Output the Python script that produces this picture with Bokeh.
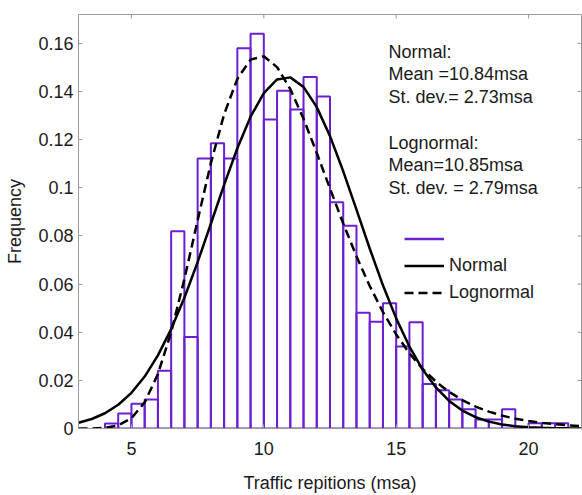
from bokeh.plotting import figure
from bokeh.models import (ColumnDataSource, Range1d, FixedTicker,
                          Label, Legend, LegendItem)
from bokeh.embed import file_html
from bokeh.resources import INLINE

# ---------------- data ----------------
bin_left = [4.0, 4.5, 5.0, 5.5, 6.0, 6.5, 7.0, 7.5, 8.0, 8.5, 9.0, 9.5,
            10.0, 10.5, 11.0, 11.5, 12.0, 12.5, 13.0, 13.5, 14.0, 14.5,
            15.0, 15.5, 16.0, 16.5, 17.0, 17.5, 18.0, 18.5, 19.0, 19.5,
            20.0, 20.5, 21.0]
bin_width = 0.5
freq = [0.0021, 0.0062, 0.0103, 0.0121, 0.0240, 0.0820, 0.0380, 0.1122,
        0.1185, 0.1122, 0.1580, 0.1640, 0.1284, 0.1403, 0.1325, 0.1460,
        0.1379, 0.0940, 0.0842, 0.0481, 0.0443, 0.0520, 0.0341, 0.0441,
        0.0185, 0.0159, 0.0120, 0.0080, 0.0037, 0.0037, 0.0080, 0.0,
        0.0022, 0.0022, 0.0022]

fit_x = [3.0, 3.5, 4.0, 4.5, 5.0, 5.5, 6.0, 6.5, 7.0, 7.5, 8.0, 8.5, 9.0,
         9.5, 10.0, 10.5, 11.0, 11.5, 12.0, 12.5, 13.0, 13.5, 14.0, 14.5,
         15.0, 15.5, 16.0, 16.5, 17.0, 17.5, 18.0, 18.5, 19.0, 19.5, 20.0,
         20.5, 21.0, 21.5, 22.0]
normal_fit = [0.00236, 0.00394, 0.00633, 0.00985, 0.01483, 0.02157, 0.03036,
              0.04130, 0.05434, 0.06914, 0.08507, 0.10120, 0.11644, 0.12954,
              0.13937, 0.14500, 0.14588, 0.14192, 0.13352, 0.12147, 0.10686,
              0.09091, 0.07479, 0.05949, 0.04576, 0.03405, 0.02449, 0.01704,
              0.01146, 0.00746, 0.00469, 0.00285, 0.00168, 0.00095, 0.00053,
              0.00028, 0.00014, 0.00007, 0.00003]
lognormal_fit = [0.0000025, 0.0000358, 0.00027, 0.00128, 0.00425, 0.01086,
                 0.02262, 0.04002, 0.06208, 0.08648, 0.11026, 0.13054,
                 0.14524, 0.15328, 0.15466, 0.15015, 0.14100, 0.12866,
                 0.11449, 0.09969, 0.08515, 0.07153, 0.05921, 0.04839,
                 0.03909, 0.03126, 0.02478, 0.01949, 0.01522, 0.01181,
                 0.00912, 0.00701, 0.00536, 0.00408, 0.00310, 0.00235,
                 0.00178, 0.00134, 0.00101]

x_ticks = [5, 10, 15, 20]
y_ticks = [0, 0.02, 0.04, 0.06, 0.08, 0.1, 0.12, 0.14, 0.16]
y_tick_labels = ["0", "0.02", "0.04", "0.06", "0.08", "0.1", "0.12", "0.14", "0.16"]

annot_lines = ["Normal:", "Mean =10.84msa", "St. dev.= 2.73msa", "",
               "Lognormal:", "Mean=10.85msa", "St. dev. = 2.79msa"]
legend_labels = [" ", "Normal", "Lognormal"]

# ---------------- style ----------------
FONT = "Liberation Sans"
PURPLE = "#6B1FD0"
GRAY = "#9a9a9a"
TXT = "#1a1a1a"
FS = "18px"

X0, X1 = 3, 22
Y0, Y1 = 0, 0.172
W, H = 582, 495
ML, MR, MT, MB = 78, 1, 14, 65

p = figure(width=W, height=H, x_range=Range1d(X0, X1), y_range=Range1d(Y0, Y1),
           output_backend="svg", toolbar_location=None,
           min_border_left=ML, min_border_right=MR, min_border_top=MT, min_border_bottom=MB)
p.xgrid.visible = False
p.ygrid.visible = False
p.outline_line_color = GRAY
p.outline_line_width = 1
p.background_fill_color = "white"
p.border_fill_color = "white"

src = ColumnDataSource(dict(left=bin_left,
                            right=[l + bin_width for l in bin_left],
                            top=freq,
                            bottom=[0] * len(freq)))
p.quad(left="left", right="right", top="top", bottom="bottom", source=src,
       fill_alpha=0, line_color=PURPLE, line_width=2)

normal_r = p.line(fit_x, normal_fit, line_color="black", line_width=2.5)
logn_r = p.line(fit_x, lognormal_fit, line_color="black", line_width=2.5, line_dash="9 5")
hist_proxy = p.line([float("nan")], [float("nan")], line_color=PURPLE, line_width=2.5)

# inward ticks on top and right edges of the box
TICK_PX = 4
tick_dx = TICK_PX * (X1 - X0) / (W - ML - MR)
tick_dy = TICK_PX * (Y1 - Y0) / (H - MT - MB)
p.segment(x0=x_ticks, y0=[Y1] * len(x_ticks), x1=x_ticks, y1=[Y1 - tick_dy] * len(x_ticks),
          line_color=GRAY, line_width=1)
p.segment(x0=[X1] * len(y_ticks), y0=y_ticks, x1=[X1 - tick_dx] * len(y_ticks), y1=y_ticks,
          line_color=GRAY, line_width=1)


def style_axis(ax):
    ax.major_tick_in = 4
    ax.major_tick_out = 0
    ax.minor_tick_in = 0
    ax.minor_tick_out = 0
    ax.axis_line_color = GRAY
    ax.major_tick_line_color = GRAY
    ax.major_label_text_font = FONT
    ax.major_label_text_color = TXT
    ax.major_label_text_font_size = FS
    ax.axis_label_text_font = FONT
    ax.axis_label_text_font_size = FS
    ax.axis_label_text_font_style = "normal"
    ax.axis_label_text_color = TXT


xa = p.xaxis[0]
xa.ticker = FixedTicker(ticks=x_ticks)
style_axis(xa)
xa.major_label_standoff = 13
xa.axis_label = "Traffic repitions (msa)"
xa.axis_label_standoff = 15

ya = p.yaxis[0]
ya.ticker = FixedTicker(ticks=y_ticks)
style_axis(ya)
ya.major_label_overrides = dict(zip(y_ticks, y_tick_labels))
ya.major_label_standoff = 5
ya.axis_label = "Frequency"
ya.axis_label_standoff = 10

# annotation block (screen units relative to frame)
y0 = 376.8
line_h = 22.7
for i, txt in enumerate(annot_lines):
    if txt:
        p.add_layout(Label(x=310, y=y0 - i * line_h, x_units="screen", y_units="screen",
                           text=txt, text_font=FONT, text_font_size=FS, text_color=TXT,
                           text_baseline="middle", text_align="left"))

legend = Legend(items=[LegendItem(label=legend_labels[0], renderers=[hist_proxy]),
                       LegendItem(label=legend_labels[1], renderers=[normal_r]),
                       LegendItem(label=legend_labels[2], renderers=[logn_r])],
                location=(326, 125), orientation="vertical",
                label_text_font=FONT, label_text_font_size=FS, label_text_color=TXT,
                glyph_width=40, glyph_height=21, label_height=21, label_standoff=5,
                spacing=6, padding=0, margin=0,
                border_line_alpha=0, background_fill_alpha=0)
p.add_layout(legend)

open("out.html", "w").write(file_html(p, INLINE))
